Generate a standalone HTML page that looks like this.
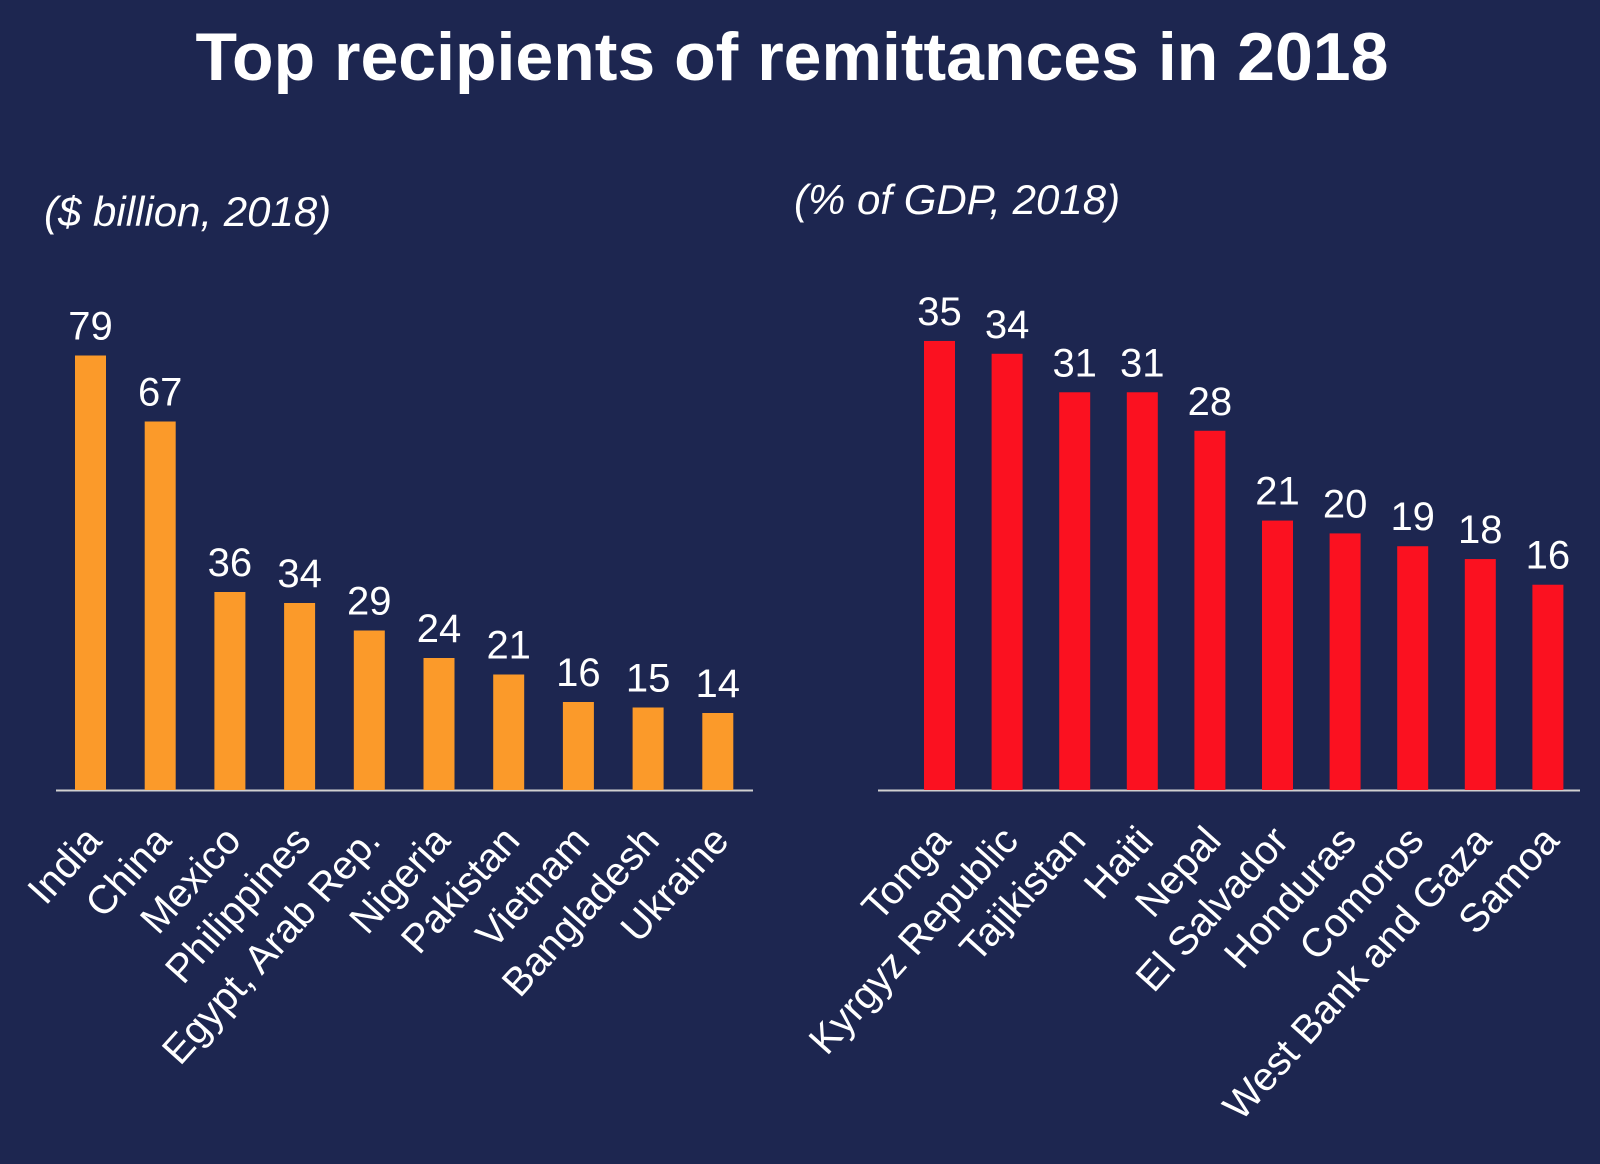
<!DOCTYPE html>
<html><head><meta charset="utf-8"><style>
html,body{margin:0;padding:0;background:#1d2650;}
svg{display:block;font-family:"Liberation Sans",Arial,sans-serif;}
</style></head><body>
<svg id="chart" width="1600" height="1164" viewBox="0 0 1600 1164">
<rect width="1600" height="1164" fill="#1d2650"/>
<text x="792" y="80" text-anchor="middle" font-size="68" font-weight="bold" fill="#fff">Top recipients of remittances in 2018</text>
<text x="44" y="226" font-size="42" font-style="italic" fill="#fff">($ billion, 2018)</text>
<text x="794" y="214" font-size="42" font-style="italic" fill="#fff">(% of GDP, 2018)</text>
<g id="left"></g>
<g id="right"></g>
</svg>
<script>
const leftCategories=["India","China","Mexico","Philippines","Egypt, Arab Rep.","Nigeria","Pakistan","Vietnam","Bangladesh","Ukraine"];
const leftValues=[79,67,36,34,29,24,21,16,15,14];
const rightCategories=["Tonga","Kyrgyz Republic","Tajikistan","Haiti","Nepal","El Salvador","Honduras","Comoros","West Bank and Gaza","Samoa"];
const rightValues=[35,34,31,31,28,21,20,19,18,16];
const NS="http://www.w3.org/2000/svg";
function mk(t,a,p){const e=document.createElementNS(NS,t);for(const k in a)e.setAttribute(k,a[k]);p.appendChild(e);return e;}
function panel(g,cats,vals,cfg){
  const base=790;
  const xs=i=>cfg.x0+i*cfg.step;
  const ys=v=>base-v*cfg.scale;
  const ax=mk('line',{x1:cfg.ax1,x2:cfg.ax2,y1:base+0.5,y2:base+0.5,stroke:'#d0d0d0','stroke-width':2},g);
  
  
  cats.forEach((c,i)=>{
    const x=xs(i),y=ys(vals[i]);
    const r=mk('rect',{x:x,y:y,width:cfg.w,height:base-y,fill:cfg.color},g);
    
    
    const t=mk('text',{x:x+cfg.w/2,y:y-16,'text-anchor':'middle','font-size':40,fill:'#fff'},g);
    t.textContent=vals[i];
    
    
    const cx=x+cfg.w/2+13,cy=842;
    const l=mk('text',{x:cx,y:cy,'text-anchor':'end','font-size':40,fill:'#fff',transform:`rotate(-48 ${cx} ${cy})`},g);
    l.textContent=c;
    
    
  });
}
panel(document.getElementById('left'),leftCategories,leftValues,{p:'left',x0:75,step:69.7,w:31,scale:5.5,ax1:56,ax2:753,color:'#fb9a2a'});
panel(document.getElementById('right'),rightCategories,rightValues,{p:'right',x0:924,step:67.6,w:31,scale:12.83,ax1:878,ax2:1580,color:'#fb1120'});
</script>
</body></html>
